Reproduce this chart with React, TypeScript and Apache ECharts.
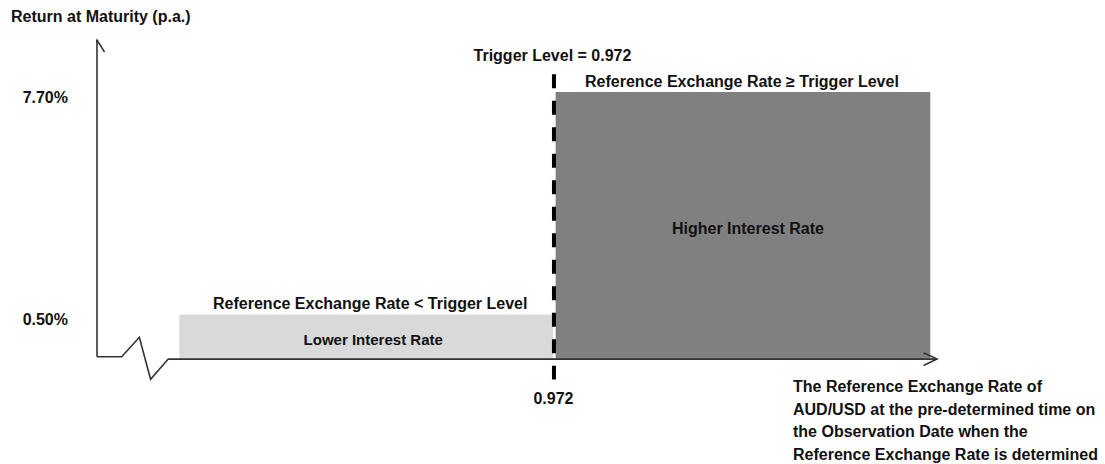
import React, { useEffect, useRef } from "react";
import * as echarts from "echarts";

// ---- Data (schematic chart units: x 0..100, y -10..100) ----
const bandConditions = [
  "Reference Exchange Rate < Trigger Level",
  "Reference Exchange Rate \u2265 Trigger Level",
];
const bandNames = ["Lower Interest Rate", "Higher Interest Rate"];
const bandRateLabels = ["0.50%", "7.70%"];
const bandStart = [9.8, 54.6];
const bandEnd = [54.3, 99.2];
const bandLevel = [14.0, 83.7];
const bandColors = ["#d9d9d9", "#808080"];

const triggerValue = "0.972";
const triggerX = 54.4;
const triggerTop = 89.3;
const triggerBottom = -6.4;

const yAxisPath = [
  [0, 0.75],
  [0, 100],
];
const xAxisPath = [
  [0, 0.75],
  [2.94, 0.75],
  [5.04, 6.83],
  [6.38, -6.33],
  [8.48, 0],
  [100, 0],
];
const yArrow = [
  [-0.9, 96.2],
  [0, 100],
  [0.9, 96.2],
];
const xArrow = [
  [98.4, 2.0],
  [100, 0],
  [98.4, -2.0],
];

const yTitle = "Return at Maturity (p.a.)";
const xTitleLines = [
  "The Reference Exchange Rate of",
  "AUD/USD at the pre-determined time on",
  "the Observation Date when the",
  "Reference Exchange Rate is determined",
];

const FONT = "'Liberation Sans', Arial, sans-serif";
const TEXT_COLOR = "#111";
const LINE_COLOR = "#333";

export default function App() {
  const ref = useRef<HTMLDivElement | null>(null);

  useEffect(() => {
    if (!ref.current) return;
    const chart = echarts.init(ref.current, undefined, { renderer: "svg" });

    const txt = (size = 16) => ({
      fontFamily: FONT,
      fontWeight: "bold" as const,
      fontSize: size,
      fill: TEXT_COLOR,
    });

    const axisLine = (data: number[][]) => ({
      type: "line",
      data,
      symbol: "none",
      silent: true,
      clip: false,
      z: 5,
      lineStyle: { color: LINE_COLOR, width: 1.6, join: "miter" },
    });

    const option: any = {
      animation: false,
      grid: { left: 97, right: 168, top: 40, bottom: 73 },
      xAxis: { type: "value", min: 0, max: 100, show: false },
      yAxis: { type: "value", min: -10, max: 100, show: false },
      graphic: [
        {
          type: "text",
          x: 11,
          y: 16.5,
          silent: true,
          style: { text: yTitle, align: "left", verticalAlign: "middle", ...txt(16) },
        },
        ...xTitleLines.map((line, i) => ({
          type: "text",
          x: 793,
          y: 386.5 + i * 22.7,
          silent: true,
          style: { text: line, align: "left", verticalAlign: "middle", ...txt(16) },
        })),
      ],
      series: [
        {
          type: "custom",
          silent: true,
          z: 2,
          encode: { x: [0, 1], y: 2 },
          data: bandStart.map((s, i) => [s, bandEnd[i], bandLevel[i], i]),
          renderItem: (params: any, api: any) => {
            const i = api.value(3);
            const p0 = api.coord([api.value(0), 0]);
            const p1 = api.coord([api.value(1), api.value(2)]);
            const axisX = api.coord([0, api.value(2)])[0];
            const x = p0[0];
            const y = p1[1];
            const w = p1[0] - p0[0];
            const h = p0[1] - p1[1];
            return {
              type: "group",
              children: [
                {
                  type: "rect",
                  shape: { x, y, width: w, height: h },
                  style: { fill: bandColors[i] },
                },
                {
                  type: "text",
                  x: x + w / 2 + (i === 0 ? 4 : -1),
                  y: y - 11,
                  style: { text: bandConditions[i], align: "center", verticalAlign: "middle", ...txt(16) },
                },
                {
                  type: "text",
                  x: x + w / 2 + (i === 0 ? 7 : 5),
                  y: y + h / 2 + 2.5,
                  style: { text: bandNames[i], align: "center", verticalAlign: "middle", ...txt(i === 0 ? 15 : 16) },
                },
                {
                  type: "text",
                  x: axisX - 29,
                  y: y + 5,
                  style: { text: bandRateLabels[i], align: "right", verticalAlign: "middle", ...txt(16) },
                },
              ],
            };
          },
        },
        axisLine(yAxisPath),
        axisLine(xAxisPath),
        axisLine(yArrow),
        axisLine(xArrow),
        {
          type: "custom",
          silent: true,
          z: 6,
          encode: { x: 0, y: [1, 2] },
          data: [[triggerX, triggerTop, triggerBottom]],
          renderItem: (params: any, api: any) => {
            const top = api.coord([api.value(0), api.value(1)]);
            const bottom = api.coord([api.value(0), api.value(2)]);
            return {
              type: "group",
              children: [
                {
                  type: "line",
                  shape: { x1: top[0], y1: top[1], x2: bottom[0], y2: bottom[1] },
                  style: { stroke: "#000", lineWidth: 4, lineDash: [14, 12.5] },
                },
                {
                  type: "text",
                  x: top[0] - 1.5,
                  y: top[1] - 19,
                  style: {
                    text: "Trigger Level = " + triggerValue,
                    align: "center",
                    verticalAlign: "middle",
                    ...txt(16),
                  },
                },
                {
                  type: "text",
                  x: bottom[0] - 0.5,
                  y: bottom[1] + 18.5,
                  style: { text: triggerValue, align: "center", verticalAlign: "middle", ...txt(16) },
                },
              ],
            };
          },
        },
      ],
    };

    chart.setOption(option);
    return () => chart.dispose();
  }, []);

  return (
    <div
      ref={ref}
      style={{ position: "fixed", left: 0, top: 0, width: 1105, height: 464, background: "#fff" }}
    />
  );
}
